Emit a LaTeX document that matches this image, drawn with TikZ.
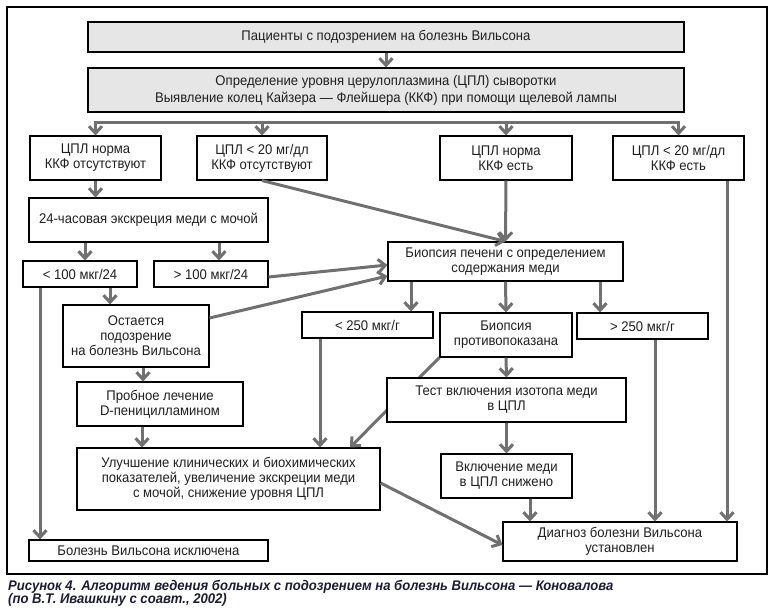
\documentclass[tikz,border=0pt]{standalone}
\usepackage{fontspec}
\setmainfont{Liberation Sans}[FakeStretch=0.935]
\usetikzlibrary{arrows.meta,calc}
\definecolor{arrgray}{RGB}{112,112,112}
\definecolor{boxgray}{RGB}{230,230,230}
\definecolor{capcol}{RGB}{28,28,52}
\begin{document}
\begin{tikzpicture}[x=1pt,y=-1pt,
  box/.style={draw=black,line width=1.1pt,fill=white,align=center,inner sep=0pt,
    font=\fontsize{14}{15}\selectfont,text=black!88},
  graybox/.style={box,fill=boxgray,font=\fontsize{14}{17}\selectfont},
  conn/.style={draw=arrgray,line width=3pt},
  arr/.style={conn,-{Straight Barb[length=7pt,width=13pt]}},
  captext/.style={anchor=base west,inner sep=0pt,font=\fontsize{14}{16}\selectfont\bfseries\itshape,text=capcol},
]
\fill[white] (0,0) rectangle (774,611);
\useasboundingbox (0,0) rectangle (774,611);
\draw[line width=1.3pt] (7,7) rectangle (767,574);

% nodes
\node[graybox,minimum width=596pt,minimum height=30pt] (p1) at (386,37) {Пациенты с подозрением на болезнь Вильсона};
\node[graybox,minimum width=596pt,minimum height=44pt] (p2) at (386,90) {Определение уровня церулоплазмина (ЦПЛ) сыворотки\\Выявление колец Кайзера — Флейшера (ККФ) при помощи щелевой лампы};
\node[box,minimum width=131pt,minimum height=44pt] (a) at (95.5,158) {ЦПЛ норма\\ККФ отсутствуют};
\node[box,minimum width=130pt,minimum height=44pt] (b) at (262,158) {ЦПЛ < 20 мг/дл\\ККФ отсутствуют};
\node[box,minimum width=132pt,minimum height=44pt] (c) at (506,158) {ЦПЛ норма\\ККФ есть};
\node[box,minimum width=131pt,minimum height=44pt] (d) at (678.5,158) {ЦПЛ < 20 мг/дл\\ККФ есть};
\node[box,minimum width=239pt,minimum height=44pt] (u24) at (148.5,220) {24-часовая экскреция меди с мочой};
\node[box,minimum width=114pt,minimum height=26pt] (lt100) at (80,274) {< 100 мкг/24};
\node[box,minimum width=114pt,minimum height=26pt] (gt100) at (211,274) {> 100 мкг/24};
\node[box,minimum width=235pt,minimum height=39pt] (bio) at (505.5,261.5) {Биопсия печени с определением\\содержания меди};
\node[box,minimum width=146pt,minimum height=62pt] (ost) at (136,336) {Остается\\подозрение\\на болезнь Вильсона};
\node[box,minimum width=131pt,minimum height=26pt] (lt250) at (367.5,325) {< 250 мкг/г};
\node[box,minimum width=132pt,minimum height=44pt] (bpc) at (506,335) {Биопсия\\противопоказана};
\node[box,minimum width=131pt,minimum height=26pt] (gt250) at (642.5,326) {> 250 мкг/г};
\node[box,minimum width=166pt,minimum height=44pt] (tr) at (160,404) {Пробное лечение\\D-пеницилламином};
\node[box,minimum width=303pt,minimum height=62pt] (imp) at (228.5,479) {Улучшение клинических и биохимических\\показателей, увеличение экскреции меди\\с мочой, снижение уровня ЦПЛ};
% this connector runs behind the test box
\draw[arr] (bpc.south west) -- ([xshift=121.5pt]imp.north);
\node[box,minimum width=239pt,minimum height=44pt] (test) at (506.5,400) {Тест включения изотопа меди\\в ЦПЛ};
\node[box,minimum width=131pt,minimum height=44pt] (inc) at (506.5,476) {Включение меди\\в ЦПЛ снижено};
\node[box,minimum width=239pt,minimum height=21pt] (excl) at (148.5,550.5) {Болезнь Вильсона исключена};
\node[box,minimum width=234pt,minimum height=39pt] (diag) at (620,541.5) {Диагноз болезни Вильсона\\установлен};

% caption
\node[captext] (cap1) at (8,590) {Рисунок 4. Алгоритм ведения больных с подозрением на болезнь Вильсона — Коновалова};
\node[captext] (cap2) at (8,603) {(по В.Т. Ивашкину с соавт., 2002)};

% connectors
\draw[arr] (p1.south) -- (p2.north);
\coordinate (bar) at (0,122);
\draw[conn,line cap=rect] (a.north |- bar) -- (d.north |- bar);
\draw[arr] (a.north |- bar) -- (a.north);
\draw[arr] (b.north |- bar) -- (b.north);
\draw[arr] (c.north |- bar) -- (c.north);
\draw[arr] (d.north |- bar) -- (d.north);
\draw[arr] (a.south) -- (a.south |- u24.north);
\draw[arr] (b.south) -- (bio.north);
\draw[arr] (c.south) -- (bio.north);
\draw[arr] ([xshift=48.5pt]d.south) -- ([xshift=48.5pt]d.south |- diag.north);
\draw[arr] ([xshift=5pt]lt100.north |- u24.south) -- ([xshift=5pt]lt100.north);
\draw[arr] ([xshift=8pt]gt100.north |- u24.south) -- ([xshift=8pt]gt100.north);
\draw[arr] ([yshift=-3pt]gt100.east) -- ([yshift=-3.5pt]bio.west);
\draw[arr] ([yshift=18pt]ost.east) -- ([yshift=-14.5pt]bio.west);
\draw[arr] ([xshift=30pt]lt100.south) -- ([xshift=30pt]lt100.south |- ost.north);
\draw[arr] ([xshift=-40pt]lt100.south) -- ([xshift=-40pt]lt100.south |- excl.north);
\draw[arr] ([xshift=7pt]ost.south) -- ([xshift=7pt]ost.south |- tr.north);
\draw[arr] ([xshift=-18pt]tr.south) -- ([xshift=-18pt]tr.south |- imp.north);
\draw[arr] ([xshift=-94.5pt]bio.south) -- ([xshift=-94.5pt]bio.south |- lt250.north);
\draw[arr] (bio.south) -- (bpc.north);
\draw[arr] ([xshift=94.5pt]bio.south) -- ([xshift=94.5pt]bio.south |- gt250.north);
\draw[arr] ([xshift=-47.5pt]lt250.south) -- ([xshift=-47.5pt]lt250.south |- imp.north);
\draw[arr] (bpc.south) -- (test.north);
\draw[arr] (test.south) -- (inc.north);
\draw[arr] ([xshift=23.5pt]inc.south) -- ([xshift=23.5pt]inc.south |- diag.north);
\draw[arr] ([xshift=12.5pt]gt250.south) -- ([xshift=12.5pt]gt250.south |- diag.north);
\draw[arr] ([yshift=-4pt]imp.east) -- ([yshift=-3.5pt]diag.west);
\end{tikzpicture}
\end{document}
